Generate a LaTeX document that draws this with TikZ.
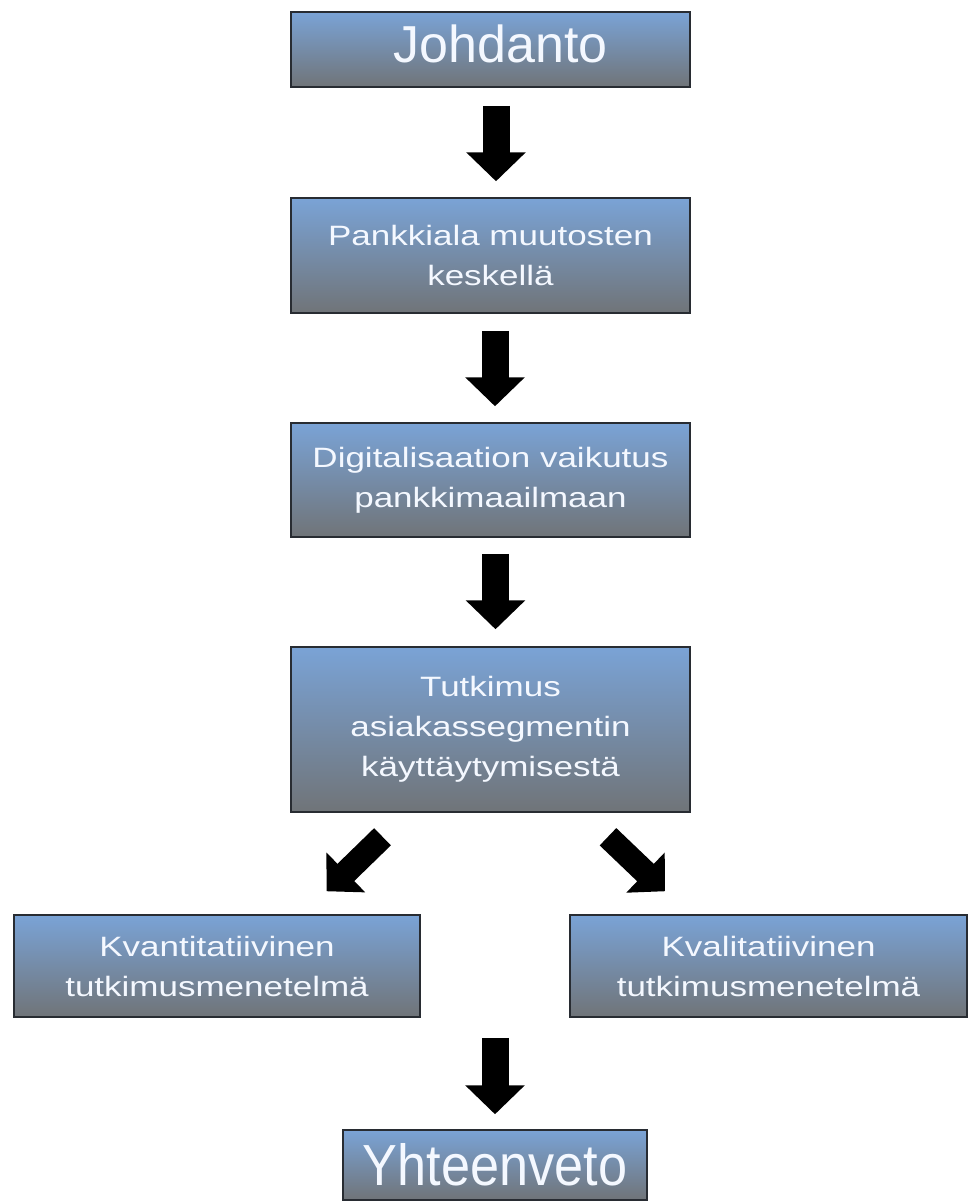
\documentclass[tikz,border=0pt]{standalone}
\usepackage{fontspec}
\setmainfont{Liberation Sans}[FakeStretch=1.25]
\newfontfamily\plainfont{Liberation Sans}
\newfontfamily\narrowfont{Liberation Sans}[FakeStretch=0.9]
\usetikzlibrary{arrows.meta,calc}
\definecolor{boxtop}{RGB}{122,163,214}
\definecolor{boxbottom}{RGB}{112,116,120}
\definecolor{boxline}{RGB}{40,44,50}
\definecolor{boxtext}{RGB}{244,248,255}

\begin{document}
\begin{tikzpicture}[x=1pt,y=-1pt,
    stage/.style={draw=boxline,line width=1.5pt,top color=boxtop,bottom color=boxbottom,
      text=boxtext,align=center,inner sep=0pt,font=\fontsize{28}{40}\selectfont},
    bigarrow/.style={line width=27pt,-{Triangle[width=58pt,length=29pt]}},
    sidearrow/.style={line width=24pt,-{Triangle[width=54pt,length=27pt]}}]
    \useasboundingbox (0,0) rectangle (973,1203);
    % Main column
    \node[stage,minimum width=399pt,minimum height=75pt,text depth=12pt,font=\plainfont\fontsize{52}{60}\selectfont] (johdanto) at (490.5,49.5) {\hspace*{20pt}Johdanto};
    \node[stage,minimum width=399pt,minimum height=115pt] (pankki) at (490.5,255.5) {Pankkiala muutosten\\keskellä};
    \node[stage,minimum width=399pt,minimum height=114pt] (digi) at (490.5,480) {Digitalisaation vaikutus\\pankkimaailmaan};
    \node[stage,minimum width=399pt,minimum height=165pt] (tutkimus) at (490.5,729.5) {Tutkimus\\asiakassegmentin\\käyttäytymisestä};
    % Two methods
    \node[stage,minimum width=406pt,minimum height=102pt] (kvant) at (217,966) {Kvantitatiivinen\\tutkimusmenetelmä};
    \node[stage,minimum width=397pt,minimum height=102pt] (kval) at (768.5,966) {Kvalitatiivinen\\tutkimusmenetelmä};
    \coordinate (merge) at ($(kvant.south east)!0.5!(kval.south west)$);
    \node[stage,minimum width=304pt,minimum height=70pt,font=\narrowfont\fontsize{58}{64}\selectfont] (yhteenveto) at (495,1165) {Yhteenveto};
    % Arrows
    \draw[bigarrow] ($(johdanto.south)+(5.5,18)$) -- ($(pankki.north)+(5.5,-16)$);
    \draw[bigarrow] ($(pankki.south)+(4.5,17)$) -- ($(digi.north)+(4.5,-16)$);
    \draw[bigarrow] ($(digi.south)+(5,16)$) -- ($(tutkimus.north)+(5,-17)$);
    \draw[sidearrow] ($(tutkimus.south)+(-108,24)$) -- ($(kvant.north)+(109.5,-23)$);
    \draw[sidearrow] ($(tutkimus.south)+(117.5,24)$) -- ($(kval.north)+(-103.5,-23)$);
    \draw[bigarrow] ($(merge)+(0,20)$) -- ($(yhteenveto.north)+(0,-15)$); % Summary arrow
\end{tikzpicture}
\end{document}
